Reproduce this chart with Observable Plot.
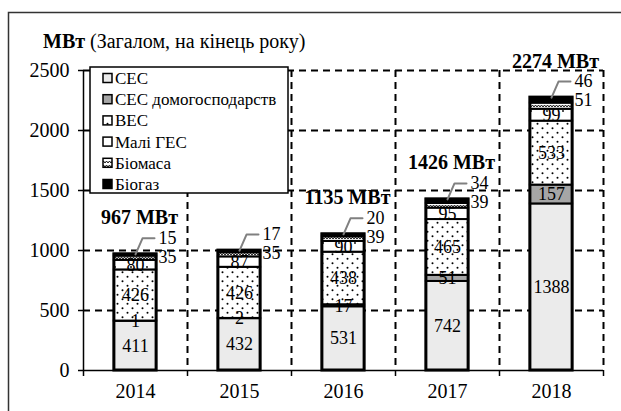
<!DOCTYPE html>
<html><head><meta charset="utf-8">
<script src="https://cdn.jsdelivr.net/npm/d3@7"></script>
<script src="https://cdn.jsdelivr.net/npm/@observablehq/plot@0.6"></script>
<style>
body{margin:0;background:#fff;}
#chart{width:621px;height:411px;overflow:hidden;}
#chart svg, #chart svg text{font-family:"Liberation Serif", serif !important;}
</style>
</head><body><div id="chart"></div>
<script>
// ---- data ----
const years = [2014, 2015, 2016, 2017, 2018];
const series = ["СЕС", "СЕС домогосподарств", "ВЕС", "Малі ГЕС", "Біомаса", "Біогаз"];
const sesValues = [411, 432, 531, 742, 1388];
const sesHomeValues = [1, 2, 17, 51, 157];
const windValues = [426, 426, 438, 465, 533];
const hydroValues = [80, 87, 90, 95, 99];
const biomassValues = [35, 35, 39, 39, 51];
const biogasValues = [15, 17, 20, 34, 46];
const totalLabels = ["967 МВт", "", "1135 МВт", "1426 МВт", "2274 МВт"];
const yTicks = [0, 500, 1000, 1500, 2000, 2500];
const titleBold = "МВт";
const titleRest = " (Загалом, на кінець року)";

// ---- styling ----
const FONT = "Liberation Serif";
const fills = ["#ebebeb", "#a6a6a6", "url(#pWind)", "url(#pHydro)", "url(#pBio)", "#000"];
const valuesBySeries = [sesValues, sesHomeValues, windValues, hydroValues, biomassValues, biogasValues];

// stack
const stacked = [];
const tops = [];
years.forEach((yr, i) => {
  let acc = 0;
  series.forEach((s, k) => {
    const v = valuesBySeries[k][i];
    stacked.push({year: yr, series: s, k, value: v, y1: acc, y2: acc + v});
    acc += v;
  });
  tops.push({year: yr, top: acc, label: totalLabels[i], biogas: biogasValues[i], biomass: biomassValues[i]});
});
const boundaries = [years[0] - 0.5, ...years.map(y => y + 0.5)];
const halfBar = 0.203;
const W = 621, H = 411, mL = 83, mR = 18, mT = 70, mB = 41;
const pxX = (W - mL - mR) / (years.length); // px per year
const pxY = (H - mT - mB) / 2500;
const leaders = [];
tops.forEach(t => {
  leaders.push({year: t.year, x: t.year, y: t.top});
  leaders.push({year: t.year, x: t.year + 7 / pxX, y: t.top + 16 / pxY});
  leaders.push({year: t.year, x: t.year + 19 / pxX, y: t.top + 16 / pxY});
});

const dash = {stroke: "black", strokeOpacity: 1, strokeWidth: 2, strokeDasharray: "7,5"};

const marks = [
  Plot.gridY(yTicks.filter(v => v > 0), dash),
  Plot.gridX(boundaries.slice(1), dash),
];
series.forEach((s, k) => {
  marks.push(Plot.rect(stacked.filter(d => d.k === k), {
    x1: d => d.year - halfBar, x2: d => d.year + halfBar, y1: "y1", y2: "y2",
    fill: fills[k], stroke: "black", strokeWidth: 2
  }));
});
marks.push(Plot.rect(tops, {x1: d => d.year - halfBar, x2: d => d.year + halfBar, y1: 0, y2: "top", fill: "none", stroke: "black", strokeWidth: 3}));
marks.push(Plot.ruleY([0], {stroke: "black", strokeWidth: 1.5}));
marks.push(Plot.ruleX([boundaries[0]], {stroke: "black", strokeWidth: 1.5}));
marks.push(Plot.axisY({ticks: yTicks, tickSize: 5, tickPadding: 9, tickFormat: d3.format("d"), fontSize: 20, fontFamily: FONT, stroke: "black", strokeWidth: 1.5}));
marks.push(Plot.axisX({ticks: years, tickSize: 0, tickPadding: 13, tickFormat: d3.format("d"), fontSize: 20, fontFamily: FONT}));
marks.push(Plot.axisX({ticks: boundaries, tickSize: 6, tickFormat: () => "", stroke: "black", strokeWidth: 1.5}));
// inside labels
marks.push(Plot.text(stacked.filter(d => d.k <= 3), {
  x: "year", y: d => (d.y1 + d.y2) / 2, text: d => String(d.value), fontSize: 18, fontFamily: FONT, fill: "black"
}));
// callouts
marks.push(Plot.line(leaders, {x: "x", y: "y", z: "year", stroke: "#808080", strokeWidth: 2}));
marks.push(Plot.text(tops, {x: "year", y: "top", text: d => String(d.biogas), dx: 32, dy: -16, fontSize: 18, fontFamily: FONT, fill: "black"}));
marks.push(Plot.text(tops, {x: "year", y: "top", text: d => String(d.biomass), dx: 32, dy: 3, fontSize: 18, fontFamily: FONT, fill: "black"}));
// totals
marks.push(Plot.text(tops.filter(d => d.label), {x: "year", y: "top", text: "label", dx: 4, dy: -30, lineAnchor: "bottom", fontSize: 20, fontFamily: FONT, fontWeight: "bold", fill: "black"}));

const chart = Plot.plot({
  width: W, height: H, marginLeft: mL, marginRight: mR, marginTop: mT, marginBottom: mB,
  x: {type: "linear", domain: [boundaries[0], boundaries[boundaries.length - 1]]},
  y: {domain: [0, 2500]},
  style: {fontFamily: FONT, fontSize: "20px", color: "black", background: "white"},
  marks
});
document.getElementById("chart").appendChild(chart);

// ---- patterns, frame, title, legend ----
const svg = d3.select(chart);
const defs = svg.insert("defs", ":first-child");
const pw = defs.append("pattern").attr("id", "pWind").attr("patternUnits", "userSpaceOnUse").attr("width", 10).attr("height", 9);
pw.append("rect").attr("width", 10).attr("height", 9).attr("fill", "white");
pw.append("circle").attr("cx", 2.5).attr("cy", 2.2).attr("r", 1).attr("fill", "black");
pw.append("circle").attr("cx", 7.5).attr("cy", 6.7).attr("r", 1).attr("fill", "black");
const ph = defs.append("pattern").attr("id", "pHydro").attr("patternUnits", "userSpaceOnUse").attr("width", 16).attr("height", 12);
ph.append("rect").attr("width", 16).attr("height", 12).attr("fill", "white");
ph.append("circle").attr("cx", 3).attr("cy", 3).attr("r", 0.9).attr("fill", "black");
const pb = defs.append("pattern").attr("id", "pBio").attr("patternUnits", "userSpaceOnUse").attr("width", 6).attr("height", 4);
pb.append("rect").attr("width", 6).attr("height", 4).attr("fill", "white");
pb.append("path").attr("d", "M0,3 L1.5,1 L3,3 L4.5,1 L6,3").attr("stroke", "black").attr("stroke-width", 0.9).attr("fill", "none");

svg.append("rect").attr("x", 8.5).attr("y", 12.5).attr("width", 700).attr("height", 500)
  .attr("fill", "none").attr("stroke", "#333").attr("stroke-width", 1.5);

const title = svg.append("text").attr("x", 43).attr("y", 48).attr("text-anchor", "start")
  .attr("font-family", FONT).attr("font-size", 20).attr("fill", "black");
title.append("tspan").attr("font-weight", "bold").text(titleBold);
title.append("tspan").text(titleRest);

const lg = svg.append("g").attr("font-family", FONT).attr("font-size", 17).attr("text-anchor", "start");
lg.append("rect").attr("x", 90).attr("y", 67).attr("width", 198).attr("height", 126)
  .attr("fill", "white").attr("stroke", "black").attr("stroke-width", 1.5);
series.forEach((s, k) => {
  const cy = 78 + k * 21.2;
  lg.append("rect").attr("x", 103).attr("y", cy - 4.5).attr("width", 9).attr("height", 9)
    .attr("fill", fills[k]).attr("stroke", "black").attr("stroke-width", 1.5);
  lg.append("text").attr("x", 115).attr("y", cy).attr("dy", "0.35em").attr("fill", "black").text(s);
});
</script>
</body></html>
